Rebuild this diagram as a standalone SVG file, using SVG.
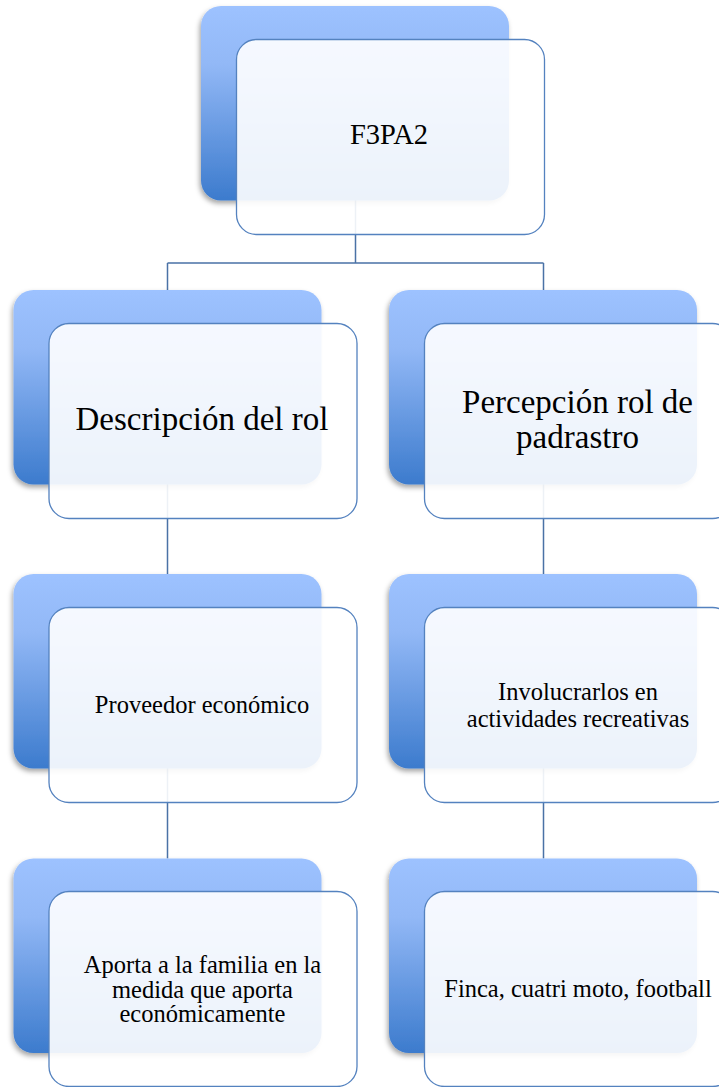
<svg xmlns="http://www.w3.org/2000/svg" width="719" height="1087" viewBox="0 0 719 1087">
<defs>
<linearGradient id="g" x1="0" y1="0" x2="0" y2="1">
<stop offset="0" stop-color="#9DC2FF"/>
<stop offset="0.3" stop-color="#92B8F6"/>
<stop offset="1" stop-color="#3C7BCD"/>
</linearGradient>
<filter id="sh" x="-10%" y="-10%" width="120%" height="125%">
<feDropShadow dx="-1.5" dy="3" stdDeviation="2.5" flood-color="#000" flood-opacity="0.35"/>
</filter>
</defs>
<style>
.back{fill:url(#g);filter:url(#sh)}
.front{fill:#fff;fill-opacity:0.9;stroke:#5482BF;stroke-width:1.3}
.conn{fill:none;stroke:#4A72A6;stroke-width:1.5}
.t{font-family:'Liberation Serif','DejaVu Serif',serif;fill:#000;text-anchor:middle}
.big{font-size:33px}
.top{font-size:28.5px}
.sm{font-size:24.5px}
</style>
<rect width="719" height="1087" fill="#fff"/>
<g id="connectors">
<path class="conn" d="M355.5,200 V263 M167.5,263 H543.5 M167.5,263 V290 M543.5,263 V290"/>
<path class="conn" d="M167.5,484 V574 M167.5,768 V858.5"/>
<path class="conn" d="M543.5,484 V574 M543.5,768 V858.5"/>
</g>
<g id="node-f3pa2">
<rect class="back" x="201" y="6" width="308" height="194.5" rx="20"/>
<rect class="front" x="236.5" y="39.5" width="308" height="195" rx="20"/>
<text class="t top" font-family="Liberation Serif, DejaVu Serif, serif" x="389" y="144">F3PA2</text>
</g>
<g id="node-descripcion">
<rect class="back" x="13.5" y="290" width="308" height="194.5" rx="20"/>
<rect class="front" x="49" y="323.5" width="308" height="195" rx="20"/>
<text class="t big" x="202" y="430">Descripción del rol</text>
</g>
<g id="node-percepcion">
<rect class="back" x="389" y="290" width="308" height="194.5" rx="20"/>
<rect class="front" x="424.5" y="323.5" width="308" height="195" rx="20"/>
<text class="t big" x="577.5" y="413">Percepción rol de</text>
<text class="t big" x="577.5" y="448">padrastro</text>
</g>
<g id="node-proveedor">
<rect class="back" x="13.5" y="574" width="308" height="194.5" rx="20"/>
<rect class="front" x="49" y="607.5" width="308" height="195" rx="20"/>
<text class="t sm" x="202" y="713">Proveedor económico</text>
</g>
<g id="node-involucrarlos">
<rect class="back" x="389" y="574" width="308" height="194.5" rx="20"/>
<rect class="front" x="424.5" y="607.5" width="308" height="195" rx="20"/>
<text class="t sm" x="578" y="700">Involucrarlos en</text>
<text class="t sm" x="578" y="727">actividades recreativas</text>
</g>
<g id="node-aporta">
<rect class="back" x="13.5" y="858.5" width="308" height="194.5" rx="20"/>
<rect class="front" x="49" y="891.5" width="308" height="195" rx="20"/>
<text class="t sm" x="202.5" y="973">Aporta a la familia en la</text>
<text class="t sm" x="202.5" y="997.5">medida que aporta</text>
<text class="t sm" x="202.5" y="1022">económicamente</text>
</g>
<g id="node-finca">
<rect class="back" x="389" y="858.5" width="308" height="194.5" rx="20"/>
<rect class="front" x="424.5" y="891.5" width="308" height="195" rx="20"/>
<text class="t sm" x="578" y="997">Finca, cuatri moto, football</text>
</g>
</svg>
